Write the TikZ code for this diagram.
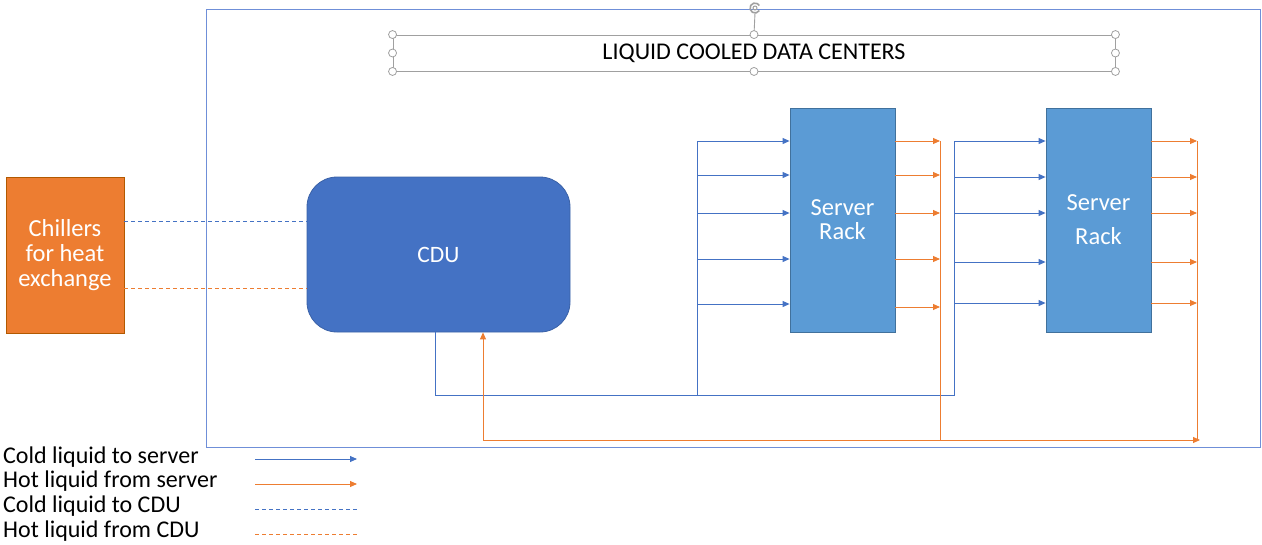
\documentclass[tikz,border=0pt]{standalone}
\usepackage{fontspec}
\setmainfont{Carlito}
\usetikzlibrary{arrows.meta}
\definecolor{cblue}{HTML}{4472C4}
\definecolor{corange}{HTML}{ED7D31}
\definecolor{rackfill}{HTML}{5B9BD5}
\definecolor{rackdraw}{HTML}{41719C}
\definecolor{framec}{HTML}{6F8FD8}
\definecolor{handleg}{HTML}{A0A0A0}
\tikzset{
  cold/.style={draw=cblue, line width=0.9pt},
  hot/.style={draw=corange, line width=0.9pt},
  coldarr/.style={cold, -{Triangle[length=7pt,width=6pt]}},
  hotarr/.style={hot, -{Triangle[length=7pt,width=6pt]}},
  colddash/.style={cold, dash pattern=on 4pt off 3pt},
  hotdash/.style={hot, dash pattern=on 4pt off 3pt},
  rackbox/.style={draw=rackdraw, fill=rackfill, line width=0.8pt, minimum width=105pt, minimum height=224pt, text=white, font=\fontsize{24.5}{24}\selectfont, align=center},
  handle/.style={circle, draw=handleg, fill=white, line width=0.8pt, inner sep=0pt, minimum size=8pt},
  legtext/.style={anchor=west, font=\fontsize{24}{24}\selectfont, inner sep=0pt}
}
\begin{document}
\begin{tikzpicture}[x=1pt,y=-1pt]
\useasboundingbox (0,0) rectangle (1262,544);
% outer frame
\draw[draw=framec, line width=0.9pt] (206,9) rectangle (1260,447);
% title box
\node[draw=handleg, line width=0.9pt, minimum width=722pt, minimum height=36pt, font=\fontsize{24}{24}\selectfont, inner sep=0pt] (title) at (754,53) {LIQUID COOLED DATA CENTERS};
\coordinate (rot) at (755,8);
\draw[handleg, line width=0.9pt] (rot) ++(0,5) -- (title.north);
\draw[handleg, line width=1.6pt] (rot) ++(30:5) arc (30:330:5);
\draw[handleg, line width=1pt] (rot) circle (2);
\foreach \a in {north west, north, north east, west, east, south west, south, south east}
  \node[handle] at (title.\a) {};
% chillers
\node[draw=orange!70!black, fill=corange, line width=0.8pt, minimum width=118pt, minimum height=156pt, text=white, font=\fontsize{24.5}{25}\selectfont, align=center] (chill) at (65,255) {Chillers\\for heat\\exchange};
% CDU
\node[draw=cblue!85!black, fill=cblue, rounded corners=30pt, line width=0.8pt, minimum width=263pt, minimum height=155pt, text=white, font=\fontsize{23.5}{24}\selectfont] (cdu) at (438.5,254.5) {CDU};
\draw[colddash] (chill.east |- 0,221) -- (cdu.west |- 0,221);
\draw[hotdash] (chill.east |- 0,288) -- (cdu.west |- 0,288);
% racks
\node[rackbox] (rack1) at (842.5,220) {Server\\Rack};
\node[rackbox] (rack2) at (1098.5,220) {Server\\[10pt]Rack};
% cold supply
\coordinate (s0) at (435,395);
\coordinate (s1) at (697,395);
\coordinate (s2) at (954,395);
\draw[cold] (cdu.south -| s0) -- (s0) -- (s2) -- (954,141);
\draw[cold] (s1) -- (697,141);
\foreach \y in {141,175,213,259,304}
  \draw[coldarr] (697,\y) -- (rack1.west |- 0,\y);
\foreach \y in {141,177,213,262,303}
  \draw[coldarr] (954,\y) -- (rack2.west |- 0,\y);
% hot return
\foreach \y in {141,175,213,259,307}
  \draw[hotarr] (rack1.east |- 0,\y) -- (940,\y);
\foreach \y in {141,177,213,262,303}
  \draw[hotarr] (rack2.east |- 0,\y) -- (1197,\y);
\coordinate (h0) at (483,440);
\coordinate (h1) at (940,440);
\coordinate (h2) at (1200,440);
\draw[hot] (940,141) -- (h1);
\draw[hot] (1197,141) -- (1197,440);
\draw[hotarr] (h0) -- (h2);
\draw[hotarr] (h0) -- (cdu.south -| h0);
% legend
\node[legtext] (l1) at (3,457) {Cold liquid to server};
\node[legtext] (l2) at (3,481) {Hot liquid from server};
\node[legtext] (l3) at (3,506) {Cold liquid to CDU};
\node[legtext] (l4) at (3,531) {Hot liquid from CDU};
\draw[coldarr] (255,459) -- (357,459);
\draw[hotarr] (255,484) -- (357,484);
\draw[colddash] (255,509) -- (357,509);
\draw[hotdash] (255,534) -- (357,534);
\end{tikzpicture}
\end{document}
